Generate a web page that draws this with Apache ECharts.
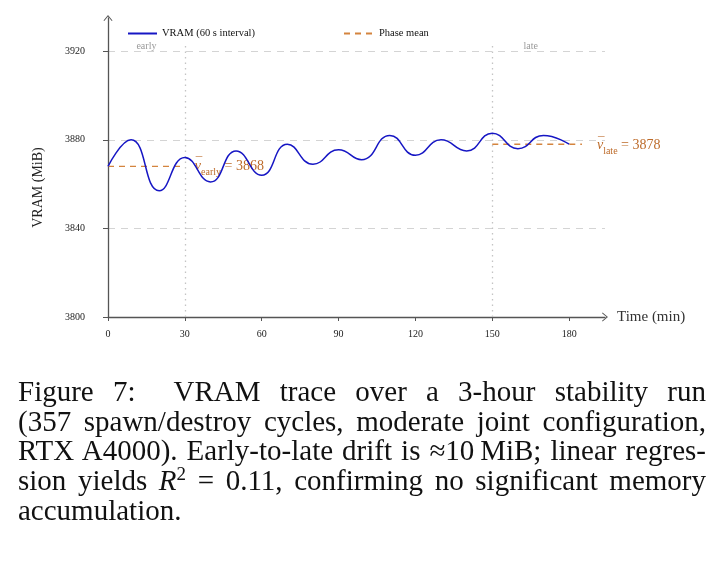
<!DOCTYPE html>
<html>
<head>
<meta charset="utf-8">
<script src="https://cdn.jsdelivr.net/npm/echarts@6/dist/echarts.min.js"></script>
<style>
  html, body { margin: 0; padding: 0; background: #fff; }
  #main { position: absolute; left: 0; top: 0; width: 724px; height: 569px; }
  .cap { position: absolute; left: 18px; top: 377px; width: 688px;
    font-family: 'Liberation Serif', 'DejaVu Serif', serif; font-size: 29px; line-height: 29.7px; color: #111; }
  .cap div { text-align: justify; text-align-last: justify; white-space: nowrap; }
  .cap div.last { text-align-last: left; }
  .cap sup { font-size: 19px; line-height: 0; vertical-align: 10px; }
</style>
</head>
<body>
<div id="main"></div>
<div class="cap">
  <div>Figure 7:&nbsp; VRAM trace over a 3-hour stability run</div>
  <div>(357 spawn/destroy cycles, moderate joint configuration,</div>
  <div>RTX A4000). Early-to-late drift is &#8776;10&#8201;MiB; linear regres-</div>
  <div>sion yields <i>R</i><sup>2</sup> = 0.11, confirming no significant memory</div>
  <div class="last">accumulation.</div>
</div>
<script>
// minutes since start (turning points of the trace)
var minutes = [0, 9, 20, 30, 40, 50, 60, 70, 80, 90, 99, 110, 120, 130, 140, 150, 160, 170, 180]
// VRAM in MiB
var vram = [3868, 3880, 3857, 3872, 3861, 3875, 3864, 3878, 3869, 3875.5, 3871, 3882, 3873, 3880, 3875, 3883, 3876, 3882, 3878]

var xTicks = [0, 30, 60, 90, 120, 150, 180]
var yTicks = [3800, 3840, 3880, 3920]

var earlyRange = [0, 30]
var lateRange = [150, 180]
var lateLineEnd = 185
var earlyMean = 3868
var lateMean = 3878
var phaseTop = 3924

var serif = "'Liberation Serif', 'DejaVu Serif', serif"
var blue = '#1616c4'
var orange = '#d4843e'
var labelOrange = '#bd6b2a'

var vramData = minutes.map(function (m, i) { return [m, vram[i]] })

// bar over v drawn as its own small line above the label
function meanLabel (name, value) {
  return '{m|\u00AF}\n{v|v}{s|' + name + '}{e| = ' + value + '}'
}
var meanRich = {
  m: { fontFamily: serif, fontSize: 13, color: labelOrange, lineHeight: 2, padding: [0, 0, 0, 1] },
  v: { fontFamily: serif, fontStyle: 'italic', fontSize: 14, color: labelOrange, verticalAlign: 'bottom', lineHeight: 9 },
  s: { fontFamily: serif, fontSize: 10, color: labelOrange, verticalAlign: 'bottom', lineHeight: 6, padding: [0, 0, -4, 0] },
  e: { fontFamily: serif, fontSize: 14, color: labelOrange, verticalAlign: 'bottom', lineHeight: 9 }
}

var chart = echarts.init(document.getElementById('main'))

var arrow = 'path://M-5,6 L0,0 L5,6 L4.2,6.6 L0,1.6 L-4.2,6.6 Z'

var option = {
  animation: false,
  textStyle: { fontFamily: serif },
  legend: [{
    data: ['VRAM (60 s interval)'],
    left: 122, top: 23,
    itemWidth: 29, itemHeight: 10,
    itemStyle: { opacity: 0 },
    textStyle: { fontFamily: serif, fontSize: 10.5, color: '#111' }
  }, {
    data: ['Phase mean'],
    left: 338, top: 23,
    itemWidth: 30, itemHeight: 10,
    itemStyle: { opacity: 0 },
    textStyle: { fontFamily: serif, fontSize: 10.5, color: '#111' }
  }],
  grid: { left: 108, top: 18, width: 497, height: 299, containLabel: false },
  xAxis: {
    type: 'value', min: 0, max: 194, interval: 30,
    name: 'Time (min)', nameLocation: 'end', nameGap: 12,
    nameTextStyle: { fontFamily: serif, fontSize: 15, color: '#333', verticalAlign: 'middle' },
    axisLine: { lineStyle: { color: '#555', width: 1.3 }, symbol: ['none', arrow], symbolSize: [9, 8] },
    axisTick: { length: 4, lineStyle: { color: '#555' }, customValues: xTicks },
    axisLabel: { fontFamily: serif, fontSize: 10, color: '#222', margin: 12, customValues: xTicks },
    splitLine: { show: false }
  },
  yAxis: {
    type: 'value', min: 3800, max: 3935, interval: 40,
    name: 'VRAM (MiB)', nameLocation: 'middle', nameRotate: 90, nameGap: 63,
    nameTextStyle: { fontFamily: serif, fontSize: 14, color: '#222', padding: [0, 40, 0, 0] },
    axisLine: { show: true, lineStyle: { color: '#555', width: 1.3 }, symbol: ['none', arrow], symbolSize: [9, 8] },
    axisTick: { show: true, length: 5, lineStyle: { color: '#555' }, customValues: yTicks },
    axisLabel: {
      fontFamily: serif, fontSize: 10, color: '#222', margin: 23, customValues: yTicks,
      formatter: function (v) { return String(v) }
    },
    splitLine: { show: true, lineStyle: { color: '#d4d4d4', type: [7, 6], width: 1 } }
  },
  series: [{
    name: 'VRAM (60 s interval)',
    type: 'line',
    data: vramData,
    smooth: 0.5,
    showSymbol: false,
    symbol: 'none',
    z: 5,
    lineStyle: { color: blue, width: 1.5 },
    itemStyle: { color: blue },
    markLine: {
      silent: true,
      symbol: ['none', 'none'],
      label: { show: false },
      lineStyle: { color: '#c4c4c4', type: [1.5, 4], width: 1.3 },
      data: [
        [{ coord: [earlyRange[1], 3800] }, { coord: [earlyRange[1], phaseTop] }],
        [{ coord: [lateRange[0], 3800] }, { coord: [lateRange[0], phaseTop] }]
      ]
    },
    markArea: {
      silent: true,
      itemStyle: { color: 'rgba(0,0,0,0)' },
      label: { position: 'inside', fontFamily: serif, fontSize: 10, color: '#999' },
      data: [
        [{ name: 'early', coord: [earlyRange[0], 3918] }, { coord: [earlyRange[1], 3926] }],
        [{ name: 'late', coord: [lateRange[0], 3918] }, { coord: [lateRange[1], 3926] }]
      ]
    }
  }, {
    name: 'Phase mean',
    type: 'line',
    data: [[earlyRange[0], earlyMean], [earlyRange[1], earlyMean]],
    showSymbol: false,
    symbol: 'none',
    z: 4,
    lineStyle: { color: orange, width: 1.3, type: [6, 5] },
    itemStyle: { color: orange },
    endLabel: { show: true, formatter: meanLabel('early', earlyMean), rich: meanRich, distance: 10, offset: [0, 1] }
  }, {
    name: 'Phase mean',
    type: 'line',
    data: [[lateRange[0], lateMean], [lateLineEnd, lateMean]],
    showSymbol: false,
    symbol: 'none',
    z: 4,
    lineStyle: { color: orange, width: 1.3, type: [6, 5] },
    itemStyle: { color: orange },
    endLabel: { show: true, formatter: meanLabel('late', lateMean), rich: meanRich, distance: 15, offset: [0, 3] }
  }]
}

chart.setOption(option)
</script>
</body>
</html>
